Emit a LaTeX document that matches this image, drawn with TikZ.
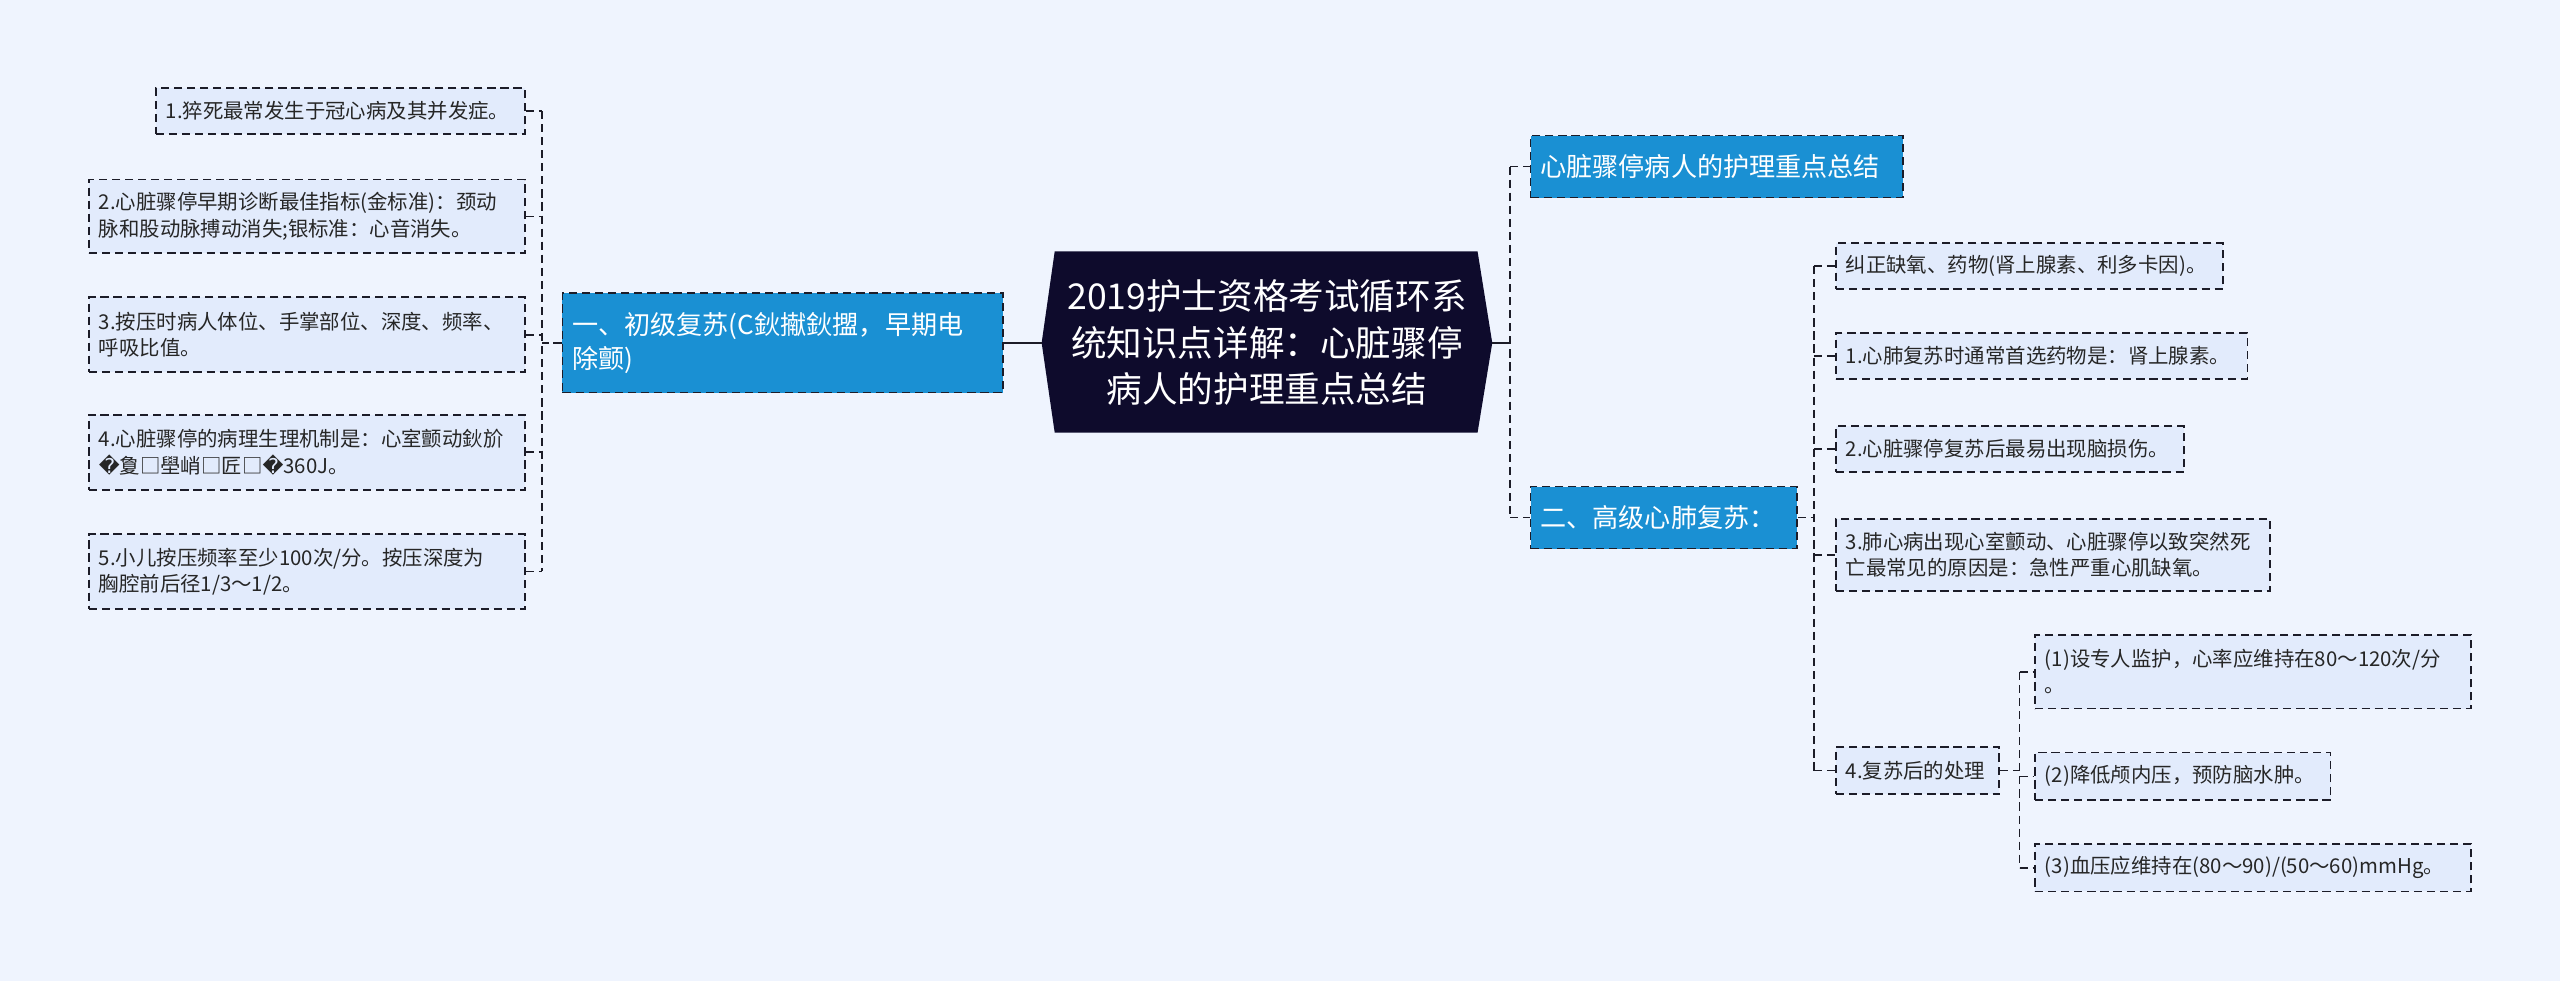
\documentclass[tikz,border=0pt]{standalone}
\usepackage{fontspec}
\setmainfont{Noto Sans CJK SC}
\newfontfamily\repfont{DejaVu Sans}
\definecolor{bgblue}{RGB}{239,244,254}
\definecolor{leaffill}{RGB}{226,235,252}
\definecolor{branchblue}{RGB}{26,144,211}
\definecolor{rootnavy}{RGB}{14,11,44}
\definecolor{linedark}{RGB}{28,28,40}
\tikzset{
 leaf/.style={draw=linedark,dash pattern=on 5pt off 3pt,line width=1pt,fill=leaffill,text=black!85,anchor=west,align=left,inner xsep=6pt,inner ysep=0pt,font=\fontsize{12.5}{16}\selectfont},
 branch/.style={leaf,fill=branchblue,text=white,font=\fontsize{16}{21}\selectfont},
 link/.style={draw=linedark,dash pattern=on 5pt off 3pt,line width=1pt},
 hub/.style={draw=linedark,line width=1.6pt}
}
\begin{document}
\begin{tikzpicture}[x=1pt,y=-1pt]
\useasboundingbox[fill=bgblue] (0,0) rectangle (1568,601);

\fill[rootnavy] (638,210)--(646,154)--(905,154)--(914,210)--(905,265)--(646,265)--cycle;
\node (root) at (776,210) [text=white,align=center,font=\fontsize{21.8}{28.5}\selectfont]{2019护士资格考试循环系\\统知识点详解：心脏骤停\\病人的护理重点总结};
\coordinate (rootl) at (638,210);
\coordinate (rootr) at (914,210);

\node (b1) at (344,210) [branch,text width=258,minimum height=61]{一、初级复苏(C鈥擜鈥擝，早期电\\除颤)};

\node (l1) at (95,68) [leaf,text width=214,minimum height=28]{1.猝死最常发生于冠心病及其并发症。};
\node (l2) at (54,132.5) [leaf,text width=255,minimum height=45]{2.心脏骤停早期诊断最佳指标(金标准)：颈动\\脉和股动脉搏动消失;银标准：心音消失。};
\node (l3) at (54,205) [leaf,text width=255,minimum height=46]{3.按压时病人体位、手掌部位、深度、频率、\\呼吸比值。};
\node (l4) at (54,277) [leaf,text width=255,minimum height=46]{4.心脏骤停的病理生理机制是：心室颤动鈥斺\\{\repfont �}夐□壆峭□匠□{\repfont �}360J。};
\node (l5) at (54,350) [leaf,text width=255,minimum height=46]{5.小儿按压频率至少100次/分。按压深度为\\胸腔前后径1/3～1/2。};

\node (r1) at (937,102) [branch,text width=216,minimum height=38]{心脏骤停病人的护理重点总结};
\node (r2) at (937,317) [branch,text width=151,minimum height=38]{二、高级心肺复苏：};

\node (c1) at (1124,163) [leaf,text width=225,minimum height=28]{纠正缺氧、药物(肾上腺素、利多卡因)。};
\node (c2) at (1124,218) [leaf,text width=240,minimum height=28]{1.心肺复苏时通常首选药物是：肾上腺素。};
\node (c3) at (1124,275) [leaf,text width=201,minimum height=28]{2.心脏骤停复苏后最易出现脑损伤。};
\node (c4) at (1124,340) [leaf,text width=254,minimum height=44]{3.肺心病出现心室颤动、心脏骤停以致突然死\\亡最常见的原因是：急性严重心肌缺氧。};
\node (c5) at (1124,472) [leaf,text width=88,minimum height=29]{4.复苏后的处理};

\node (d1) at (1246,411.5) [leaf,text width=255,minimum height=45]{(1)设专人监护，心率应维持在80～120次/分\\。};
\node (d2) at (1246,475.5) [leaf,text width=169,minimum height=29]{(2)降低颅内压，预防脑水肿。};
\node (d3) at (1246,531.5) [leaf,text width=255,minimum height=29]{(3)血压应维持在(80～90)/(50～60)mmHg。};

\coordinate (lbus) at (332,0);
\coordinate (rbus) at (925,0);
\coordinate (cbus) at (1111,0);
\coordinate (dbus) at (1237,0);

\draw[hub] (rootl) -- (b1.east);
\draw[hub] (rootr) -- (rootr -| rbus);

\draw[link] (l1.east -| lbus) -- (l5.east -| lbus);
\draw[link] (b1.west) -- (b1.west -| lbus);
\foreach \n in {l1,l2,l3,l4,l5}
  \draw[link] (\n.east) -- (\n.east -| lbus);

\draw[link] (r1.west -| rbus) -- (r2.west -| rbus);
\foreach \n in {r1,r2}
  \draw[link] (\n.west -| rbus) -- (\n.west);

\draw[link] (c1.west -| cbus) -- (c5.west -| cbus);
\draw[link] (r2.east) -- (r2.east -| cbus);
\foreach \n in {c1,c2,c3,c4,c5}
  \draw[link] (\n.west -| cbus) -- (\n.west);

\draw[link] (d1.west -| dbus) -- (d3.west -| dbus);
\draw[link] (c5.east) -- (c5.east -| dbus);
\foreach \n in {d1,d2,d3}
  \draw[link] (\n.west -| dbus) -- (\n.west);
\end{tikzpicture}
\end{document}
